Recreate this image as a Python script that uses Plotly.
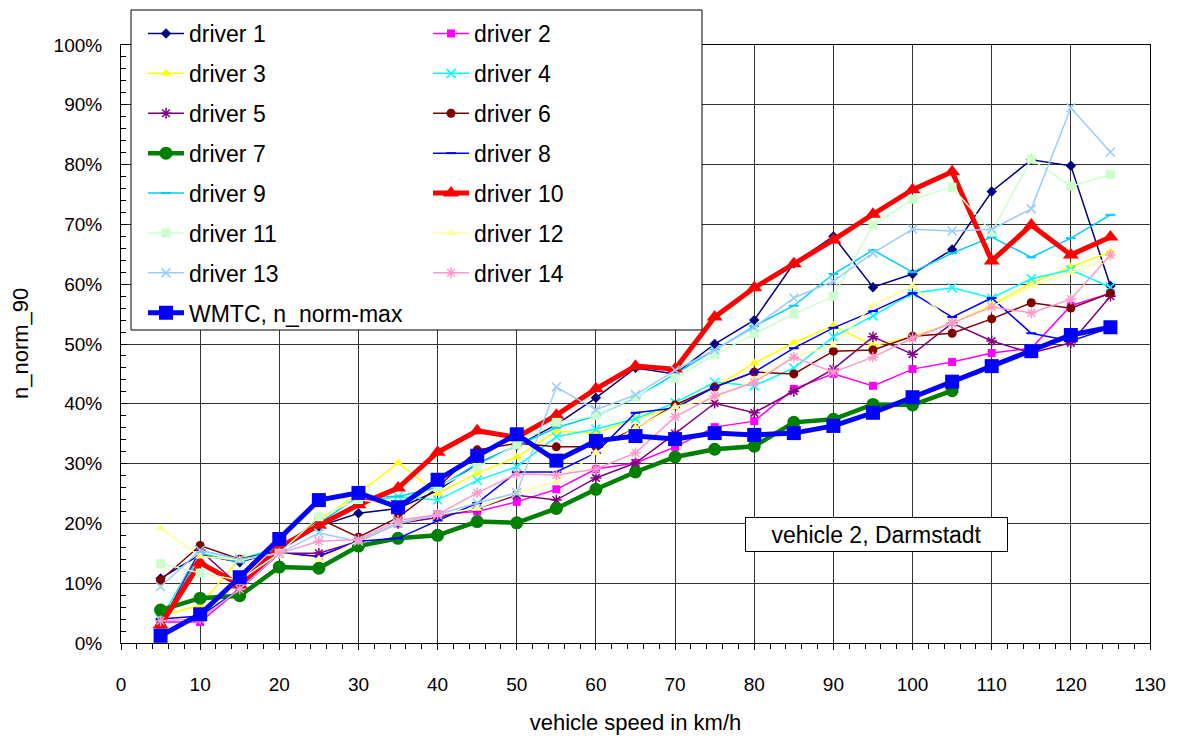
import plotly.graph_objects as go

speed = [5, 10, 15, 20, 25, 30, 35, 40, 45, 50, 55, 60, 65, 70, 75, 80, 85, 90, 95, 100, 105, 110, 115, 120, 125]

driver1 = [10.8, 14.8, 13.5, 15.5, 19.5, 21.7, 22.5, 25.5, 30.0, 33.0, 36.5, 41.0, 46.0, 45.0, 50.0, 54.0, 63.5, 68.0, 59.5, 61.7, 65.8, 75.5, 80.8, 79.8, 59.7]
driver2 = [3.5, 3.5, 9.0, 15.0, 14.5, 17.0, 20.0, 21.5, 22.0, 23.6, 25.7, 29.1, 30.1, 32.8, 36.1, 37.1, 42.5, 45.0, 43.0, 45.8, 47.0, 48.5, 49.3, 56.4, 58.5]
driver3 = [4.5, 6.3, 14.2, 15.5, 20.5, 25.0, 30.1, 25.0, 28.4, 31.1, 35.4, 35.1, 37.5, 39.5, 42.8, 46.8, 50.2, 53.1, 49.7, 51.2, 53.5, 56.5, 60.2, 62.9, 65.4]
driver4 = [4.0, 15.5, 14.0, 16.0, 19.5, 23.5, 24.5, 23.9, 27.2, 29.5, 34.5, 35.8, 37.5, 40.2, 43.6, 43.0, 46.0, 51.2, 54.7, 58.5, 59.4, 57.7, 60.9, 62.4, 59.5]
driver5 = [3.0, 15.5, 9.5, 15.0, 15.0, 17.0, 20.0, 21.0, 22.5, 24.7, 23.9, 27.6, 30.1, 35.0, 40.1, 38.5, 42.1, 45.8, 51.2, 48.3, 53.5, 50.5, 48.5, 50.2, 58.0]
driver6 = [10.5, 16.3, 14.0, 15.5, 20.8, 17.7, 21.0, 26.0, 32.3, 33.4, 32.8, 32.8, 35.9, 39.8, 42.8, 45.3, 45.0, 48.8, 49.0, 51.3, 51.8, 54.2, 56.9, 56.0, 58.5]
driver7 = [5.5, 7.5, 7.9, 12.7, 12.5, 16.2, 17.5, 18.0, 20.3, 20.1, 22.5, 25.7, 28.6, 31.1, 32.4, 32.9, 36.9, 37.4, 39.9, 39.8, 42.2]
driver8 = [4.0, 4.5, 9.0, 15.0, 14.5, 17.0, 17.5, 20.5, 23.4, 28.6, 28.6, 31.8, 38.5, 39.3, 42.8, 45.3, 49.3, 52.7, 55.5, 58.5, 54.5, 57.7, 51.8, 50.5, 52.7]
driver9 = [2.5, 15.0, 13.5, 16.0, 20.0, 24.5, 24.5, 26.0, 30.0, 33.0, 36.0, 38.0, 41.0, 45.0, 49.0, 53.0, 56.4, 61.7, 65.7, 62.0, 65.2, 67.9, 64.5, 67.7, 71.6]
driver10 = [3.0, 13.4, 9.7, 16.0, 19.7, 23.1, 25.9, 31.9, 35.5, 34.4, 38.1, 42.5, 46.3, 45.8, 54.5, 59.4, 63.4, 67.4, 71.7, 75.8, 78.8, 63.9, 69.9, 64.9, 67.9]
driver11 = [13.3, 11.7, 10.5, 15.0, 21.1, 24.0, 23.0, 26.0, 29.4, 33.1, 36.9, 38.0, 41.2, 44.3, 48.2, 51.7, 55.0, 58.0, 69.9, 74.2, 76.2, 68.7, 80.9, 76.4, 78.3]
driver12 = [19.2, 14.5, 13.9, 15.0, 14.0, 17.0, 20.0, 21.5, 22.5, 25.1, 27.0, 31.8, 36.0, 39.5, 41.0, 44.0, 47.8, 49.8, 56.5, 59.7, 53.5, 56.2, 59.7, 61.9, 64.5]
driver13 = [9.4, 15.5, 14.0, 15.0, 18.4, 17.0, 20.0, 21.5, 23.4, 25.1, 42.8, 39.0, 41.5, 45.6, 49.0, 52.8, 57.7, 60.5, 65.2, 69.2, 68.9, 69.2, 72.6, 89.5, 82.1]
driver14 = [3.7, 4.0, 9.0, 15.0, 17.0, 17.3, 20.5, 21.5, 25.1, 28.3, 28.1, 29.1, 31.8, 37.8, 41.3, 43.6, 47.8, 45.3, 47.8, 51.0, 53.5, 56.2, 55.2, 57.5, 64.9]
wmtc = [1.2, 4.8, 11.0, 17.4, 23.9, 25.1, 22.7, 27.3, 31.3, 34.9, 30.5, 33.8, 34.6, 34.1, 35.1, 34.8, 35.1, 36.3, 38.5, 41.1, 43.7, 46.3, 48.8, 51.5, 52.8]

x_ticks = list(range(0, 131, 10))
y_ticks = list(range(0, 101, 10))

FONT = "Arial, Liberation Sans, sans-serif"

series = [
    ("driver 1", driver1, "#000080", "diamond", 8, 1.5, "legend"),
    ("driver 2", driver2, "#FF00FF", "square", 8, 1.5, "legend2"),
    ("driver 3", driver3, "#FFFF00", "triangle-up", 9, 1.5, "legend"),
    ("driver 4", driver4, "#00FFFF", "x-thin", 9, 1.5, "legend2"),
    ("driver 5", driver5, "#800080", "asterisk", 9, 1.5, "legend"),
    ("driver 6", driver6, "#800000", "circle", 9, 1.5, "legend2"),
    ("driver 7", driver7, "#008000", "circle", 13, 4.5, "legend"),
    ("driver 8", driver8, "#0000FF", "line-ew", 7, 1.5, "legend2"),
    ("driver 9", driver9, "#00CCFF", "line-ew", 7, 1.5, "legend"),
    ("driver 10", driver10, "#FF0000", "triangle-up", 14, 5, "legend2"),
    ("driver 11", driver11, "#CCFFCC", "square", 9, 1.5, "legend"),
    ("driver 12", driver12, "#FFFF99", "triangle-up", 9, 1.5, "legend2"),
    ("driver 13", driver13, "#99CCFF", "x-thin", 9, 1.5, "legend"),
    ("driver 14", driver14, "#FF99CC", "asterisk", 9, 1.5, "legend2"),
    ("WMTC, n_norm-max", wmtc, "#0000FF", "square", 14, 5, "legend"),
]

fig = go.Figure()
for i, (name, vals, color, sym, size, lw, leg) in enumerate(series):
    open_sym = sym in ("x-thin", "asterisk", "line-ew")
    marker = dict(symbol=sym, size=size, color=color,
                  line=dict(width=(2 if sym == "line-ew" else 1.5) if open_sym else 0, color=color))
    fig.add_trace(go.Scatter(
        x=speed[:len(vals)], y=vals, name=name, mode="lines+markers",
        line=dict(color=color, width=lw), marker=marker,
        legend=leg, legendgroup=f"g{i}", showlegend=True,
    ))

W, H = 1177, 736
PL, PR, PT, PB = 121, 1150, 45, 643
def px(xp):
    return (xp - PL) / (PR - PL)
def py(yp):
    return (PB - yp) / (PB - PT)

legend_common = dict(
    font=dict(family=FONT, size=23, color="black"),
    bgcolor="rgba(0,0,0,0)", borderwidth=0,
    orientation="v", xanchor="left", yanchor="top",
    xref="container", yref="container",
    tracegroupgap=7, itemwidth=36,
)

fig.update_layout(
    width=W, height=H,
    margin=dict(l=PL, r=W - PR, t=PT, b=H - PB, autoexpand=False),
    paper_bgcolor="white", plot_bgcolor="white",
    font=dict(family=FONT, size=19, color="black"),
    showlegend=True,
    legend=dict(x=143 / W, y=1 - 12 / H, **legend_common),
    legend2=dict(x=428 / W, y=1 - 12 / H, **legend_common),
    xaxis=dict(
        range=[0, 130], tickvals=x_ticks, ticktext=[str(v) for v in x_ticks],
        showgrid=True, gridcolor="#333333", gridwidth=1,
        showline=True, linecolor="black", linewidth=1, mirror=True,
        ticks="outside", ticklen=6, tickcolor="black", ticklabelstandoff=18,
        minor=dict(dtick=2, ticks="outside", ticklen=5, tickcolor="black", showgrid=False),
        title=dict(text="vehicle speed in km/h", font=dict(size=22), standoff=20),
        tickfont=dict(size=19), zeroline=False, automargin=False,
    ),
    yaxis=dict(
        range=[0, 100], tickvals=y_ticks, ticktext=[f"{v}%" for v in y_ticks],
        showgrid=True, gridcolor="#333333", gridwidth=1,
        showline=True, linecolor="black", linewidth=1, mirror=True,
        ticks="inside", ticklen=6, tickcolor="black", ticklabelstandoff=14,
        minor=dict(dtick=2, ticks="inside", ticklen=5, tickcolor="black", showgrid=False),
        tickfont=dict(size=19), zeroline=False, automargin=False,
    ),
    shapes=[dict(
        type="rect", xref="paper", yref="paper",
        x0=px(131), x1=px(702), y0=py(330), y1=py(10),
        line=dict(color="black", width=1), fillcolor="white", layer="above",
    )],
    annotations=[
        dict(
            text="vehicle 2, Darmstadt", xref="x", yref="y", x=95.4, y=18.1,
            showarrow=False, font=dict(family=FONT, size=23, color="black"),
            bgcolor="white", bordercolor="black", borderwidth=1,
            width=257, height=29, borderpad=2,
        ),
        dict(
            text="n_norm_90", xref="paper", yref="paper", x=px(20), y=0.5,
            textangle=-90, showarrow=False, xanchor="center", yanchor="middle",
            font=dict(family=FONT, size=22, color="black"),
        ),
    ],
)

fig.write_html("out.html")
